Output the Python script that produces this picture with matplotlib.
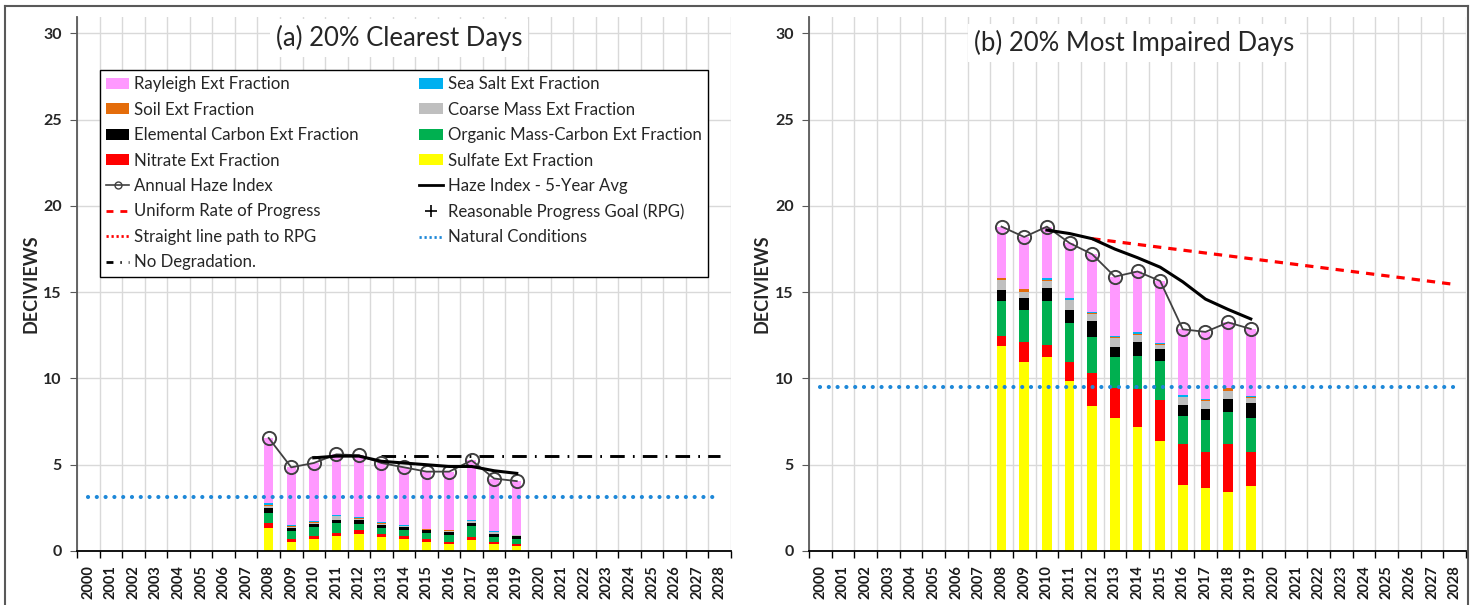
import numpy as np
import matplotlib
matplotlib.use('Agg')
import matplotlib.pyplot as plt
from matplotlib.lines import Line2D
from matplotlib.patches import Patch

plt.rcParams['font.family'] = ['Lato', 'DejaVu Sans']

# ---- data ----
years = [2008, 2009, 2010, 2011, 2012, 2013, 2014, 2015, 2016, 2017, 2018, 2019]
axis_years = list(range(2000, 2029))
avg_years = [2010, 2011, 2012, 2013, 2014, 2015, 2016, 2017, 2018, 2019]

# (a) 20% clearest days, deciviews
clear_sulfate = [1.35, 0.52, 0.72, 0.87, 0.97, 0.81, 0.68, 0.54, 0.39, 0.62, 0.39, 0.27]
clear_nitrate = [0.25, 0.20, 0.15, 0.16, 0.23, 0.16, 0.17, 0.18, 0.15, 0.21, 0.15, 0.16]
clear_omc = [0.62, 0.44, 0.52, 0.61, 0.35, 0.34, 0.35, 0.31, 0.39, 0.62, 0.27, 0.25]
clear_ec = [0.26, 0.19, 0.20, 0.16, 0.25, 0.19, 0.19, 0.17, 0.17, 0.19, 0.16, 0.19]
clear_cm = [0.12, 0.06, 0.05, 0.20, 0.08, 0.08, 0.06, 0.04, 0.08, 0.10, 0.12, 0.04]
clear_soil = [0.08, 0.03, 0.02, 0.02, 0.02, 0.02, 0.02, 0.01, 0.01, 0.02, 0.02, 0.01]
clear_seasalt = [0.10, 0.05, 0.06, 0.04, 0.05, 0.08, 0.06, 0.02, 0.02, 0.05, 0.06, 0.01]
clear_rayleigh = [3.77, 3.36, 3.38, 3.54, 3.60, 3.42, 3.32, 3.33, 3.39, 3.44, 3.03, 3.12]
clear_haze = [6.55, 4.85, 5.10, 5.60, 5.55, 5.10, 4.85, 4.60, 4.60, 5.25, 4.20, 4.05]
clear_5yr = [5.40, 5.50, 5.50, 5.20, 5.10, 5.00, 4.90, 4.90, 4.65, 4.50]
clear_natural = [3.13, 3.13]
clear_natural_years = [2000, 2028]
clear_nodeg = [5.50, 5.50]
clear_nodeg_years = [2013, 2028]

# (b) 20% most impaired days, deciviews
imp_sulfate = [11.87, 10.94, 11.23, 9.87, 8.38, 7.68, 7.20, 6.35, 3.83, 3.68, 3.43, 3.77]
imp_nitrate = [0.62, 1.16, 0.73, 1.07, 1.92, 1.77, 2.19, 2.42, 2.37, 2.03, 2.77, 1.98]
imp_omc = [1.99, 1.88, 2.52, 2.26, 2.09, 1.78, 1.93, 2.26, 1.64, 1.90, 1.83, 1.93]
imp_ec = [0.66, 0.69, 0.74, 0.78, 0.93, 0.58, 0.78, 0.68, 0.64, 0.62, 0.78, 0.87]
imp_cm = [0.54, 0.33, 0.40, 0.54, 0.42, 0.54, 0.44, 0.22, 0.42, 0.44, 0.48, 0.32]
imp_soil = [0.15, 0.16, 0.08, 0.03, 0.04, 0.06, 0.06, 0.07, 0.04, 0.10, 0.13, 0.04]
imp_seasalt = [0.02, 0.02, 0.10, 0.10, 0.10, 0.08, 0.08, 0.06, 0.10, 0.02, 0.02, 0.09]
imp_rayleigh = [2.95, 3.02, 3.00, 3.20, 3.32, 3.41, 3.52, 3.59, 3.81, 3.91, 3.81, 3.87]
imp_haze = [18.80, 18.20, 18.80, 17.85, 17.20, 15.90, 16.20, 15.65, 12.85, 12.70, 13.25, 12.87]
imp_5yr = [18.60, 18.40, 18.10, 17.50, 17.00, 16.45, 15.60, 14.60, 14.00, 13.45]
imp_urp = [18.10, 15.45]
imp_urp_years = [2012, 2028]
imp_natural = [9.52, 9.52]
imp_natural_years = [2000, 2028]

# stacking order bottom -> top
species_labels = ['Sulfate Ext Fraction', 'Nitrate Ext Fraction', 'Organic Mass-Carbon Ext Fraction',
                  'Elemental Carbon Ext Fraction', 'Coarse Mass Ext Fraction', 'Soil Ext Fraction',
                  'Sea Salt Ext Fraction', 'Rayleigh Ext Fraction']
species_colors = ['#FFFF00', '#FF0000', '#00B050', '#000000', '#BFBFBF', '#E46C0A', '#00B0F0', '#FF99FF']

HAZE_COLOR = '#404040'
NAT_COLOR = '#1E88D8'
GRID_COLOR = '#D9D9D9'
TICK_COLOR = '#262626'

NAT_STYLE = dict(color=NAT_COLOR, lw=3, linestyle=(0, (0.01, 2.1)), dash_capstyle='round')
URP_STYLE = dict(color='#FF0000', lw=2.3, linestyle=(0, (2.6, 2.2)))
NODEG_STYLE = dict(color='black', lw=2.1, linestyle=(0, (5, 2.8, 0.6, 2.8)))


def setup_axes(ax):
    ax.set_xlim(1999.5, 2028.5)
    ax.set_ylim(0, 30.95)
    ax.set_xticks(axis_years)
    ax.set_xticklabels([str(y) for y in axis_years], rotation=90, fontsize=10.5,
                       fontweight='bold', color='#1a1a1a')
    ax.set_xticks(np.arange(1999.5, 2029.0, 1.0), minor=True)
    ax.tick_params(axis='x', which='major', length=0, pad=10)
    ax.tick_params(axis='x', which='minor', length=5, direction='out', color='black', width=1)
    ax.set_yticks(range(0, 31, 5))
    ax.tick_params(axis='y', length=5, direction='out', color='#595959', pad=6,
                   labelsize=11.5, labelcolor=TICK_COLOR)
    for lbl in ax.get_yticklabels():
        lbl.set_fontweight('bold')
    ax.grid(True, axis='y', which='major', color=GRID_COLOR, lw=1)
    ax.grid(True, axis='x', which='minor', color=GRID_COLOR, lw=1)
    ax.set_axisbelow(True)
    ax.spines['top'].set_visible(False)
    ax.spines['right'].set_visible(False)
    ax.spines['left'].set_color('#595959')
    ax.spines['left'].set_linewidth(1.3)
    ax.spines['bottom'].set_color('black')
    ax.spines['bottom'].set_linewidth(1.3)
    ax.text(-0.071, 0.5, 'DECIVIEWS', transform=ax.transAxes, rotation=90, ha='center',
            va='center', fontsize=13, fontweight='bold', color=TICK_COLOR)


def draw_stack(ax, parts):
    bottom = np.zeros(len(years))
    for vals, col in zip(parts, species_colors):
        ax.bar(years, vals, width=0.42, bottom=bottom, color=col, lw=0, zorder=2)
        bottom = bottom + np.array(vals)


def draw_haze(ax, haze, avg):
    ax.plot(years, haze, color=HAZE_COLOR, lw=1.3, marker='o', ms=9.5, mfc='none',
            mec=HAZE_COLOR, mew=1.4, zorder=4)
    ax.plot(avg_years, avg, color='black', lw=2.2, zorder=4)


fig = plt.figure(figsize=(14.75, 6.05), dpi=100)
ax_a = fig.add_axes([77 / 1475, 54 / 605, 654 / 1475, 534 / 605])
ax_b = fig.add_axes([809 / 1475, 54 / 605, 657 / 1475, 534 / 605])

for ax in (ax_a, ax_b):
    setup_axes(ax)

# (a)
draw_stack(ax_a, [clear_sulfate, clear_nitrate, clear_omc, clear_ec, clear_cm,
                  clear_soil, clear_seasalt, clear_rayleigh])
ax_a.plot(clear_natural_years, clear_natural, zorder=3, **NAT_STYLE)
ax_a.plot(clear_nodeg_years, clear_nodeg, zorder=3, **NODEG_STYLE)
draw_haze(ax_a, clear_haze, clear_5yr)
ax_a.text(0.492, 0.961, '(a) 20% Clearest Days', transform=ax_a.transAxes, ha='center',
          va='center', fontsize=18.5, color='#262626',
          bbox=dict(facecolor='white', edgecolor='none', pad=4), zorder=5)

# (b)
draw_stack(ax_b, [imp_sulfate, imp_nitrate, imp_omc, imp_ec, imp_cm,
                  imp_soil, imp_seasalt, imp_rayleigh])
ax_b.plot(imp_natural_years, imp_natural, zorder=3, **NAT_STYLE)
ax_b.plot(imp_urp_years, imp_urp, zorder=3, **URP_STYLE)
draw_haze(ax_b, imp_haze, imp_5yr)
ax_b.text(0.495, 0.951, '(b) 20% Most Impaired Days', transform=ax_b.transAxes, ha='center',
          va='center', fontsize=18.5, color='#262626',
          bbox=dict(facecolor='white', edgecolor='none', pad=4), zorder=5)

# legend (row-major in the reference, matplotlib fills column-major)
patch = {lab: Patch(facecolor=c, edgecolor='none') for lab, c in zip(species_labels, species_colors)}
col1 = [
    (patch['Rayleigh Ext Fraction'], 'Rayleigh Ext Fraction'),
    (patch['Soil Ext Fraction'], 'Soil Ext Fraction'),
    (patch['Elemental Carbon Ext Fraction'], 'Elemental Carbon Ext Fraction'),
    (patch['Nitrate Ext Fraction'], 'Nitrate Ext Fraction'),
    (Line2D([], [], color=HAZE_COLOR, lw=1.2, marker='o', ms=5, mfc='none', mec=HAZE_COLOR),
     'Annual Haze Index'),
    (Line2D([], [], color='#FF0000', lw=2, linestyle=(0, (2.5, 2.5))), 'Uniform Rate of Progress'),
    (Line2D([], [], color='#FF0000', lw=2, linestyle=(0, (0.8, 1.0))), 'Straight line path to RPG'),
    (Line2D([], [], color='black', lw=2, linestyle=(0, (2.5, 2.5, 0.5, 2.5))), 'No Degradation.'),
]
col2 = [
    (patch['Sea Salt Ext Fraction'], 'Sea Salt Ext Fraction'),
    (patch['Coarse Mass Ext Fraction'], 'Coarse Mass Ext Fraction'),
    (patch['Organic Mass-Carbon Ext Fraction'], 'Organic Mass-Carbon Ext Fraction'),
    (patch['Sulfate Ext Fraction'], 'Sulfate Ext Fraction'),
    (Line2D([], [], color='black', lw=2), 'Haze Index - 5-Year Avg'),
    (Line2D([], [], color='black', lw=0, marker='+', ms=8, mew=1.2), 'Reasonable Progress Goal (RPG)'),
    (Line2D([], [], color=NAT_COLOR, lw=2, linestyle=(0, (0.8, 1.0))), 'Natural Conditions'),
    (Line2D([], [], lw=0, color='none'), ''),
]
handles = [h for h, _ in col1 + col2]
labels = [l for _, l in col1 + col2]
leg = ax_a.legend(handles, labels, ncol=2, loc='upper left', bbox_to_anchor=(0.035, 0.90),
                  borderaxespad=0, fontsize=12.1, frameon=True, fancybox=False, framealpha=1,
                  edgecolor='black', handlelength=1.4, handleheight=0.6, handletextpad=0.3,
                  labelspacing=0.56, columnspacing=3.6, borderpad=0.35)
leg.get_frame().set_linewidth(1.0)
leg.set_zorder(6)
for t in leg.get_texts():
    t.set_color('#262626')

# outer chart border
fx0, fx1, fy1 = 5 / 1475, 1468 / 1475, 1 - 6 / 605
for xs, ys in (([fx0, fx0], [0, fy1]), ([fx0, fx1], [fy1, fy1]), ([fx1, fx1], [fy1, 0])):
    fig.add_artist(Line2D(xs, ys, color='#595959', lw=1.5, transform=fig.transFigure))

fig.savefig('out.png', dpi=100)
